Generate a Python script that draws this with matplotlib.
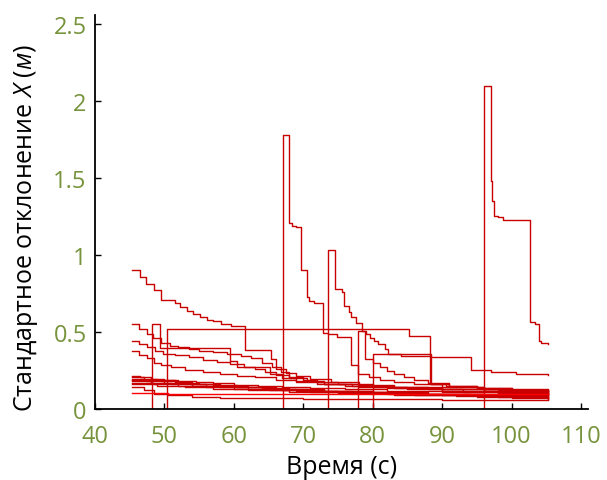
import matplotlib
matplotlib.use("Agg")
import matplotlib.pyplot as plt

plt.rcParams['font.family'] = ['Open Sans', 'DejaVu Sans']
plt.rcParams['mathtext.fontset'] = 'custom'
plt.rcParams['mathtext.rm'] = 'Open Sans'
plt.rcParams['mathtext.it'] = 'Open Sans:italic'

# step series: (x, y) breakpoints, value holds until next x
series_a_x = [45.4, 46.5, 47.4, 48.5, 49.5, 51.5, 52.2, 53.2, 54.1, 55.1, 56.1, 57.0, 58.2, 59.6, 61.6,
              65.4, 66.1, 67.5, 69.0, 71.0, 74.0, 78.0, 83.0, 90.0, 98.0, 105.2]
series_a_y = [0.90, 0.857, 0.81, 0.77, 0.71, 0.69, 0.66, 0.64, 0.62, 0.60, 0.58, 0.57, 0.55, 0.54, 0.385,
              0.325, 0.26, 0.235, 0.215, 0.195, 0.175, 0.155, 0.14, 0.13, 0.125, 0.125]

series_b_x = [45.4, 46.3, 47.5, 48.3, 49.5, 50.8, 52.0, 53.5, 55.0, 57.0, 59.0, 61.0, 62.5, 64.0, 65.5,
              66.8, 68.0, 70.0, 72.0, 75.0, 80.0, 88.0, 96.0, 105.2]
series_b_y = [0.555, 0.52, 0.49, 0.46, 0.43, 0.41, 0.40, 0.39, 0.38, 0.37, 0.36, 0.345, 0.33, 0.30, 0.27,
              0.24, 0.21, 0.19, 0.175, 0.16, 0.145, 0.13, 0.115, 0.105]

series_c_x = [45.4, 46.4, 47.5, 48.6, 49.8, 51.5, 53.5, 55.5, 57.5, 59.5, 61.5, 63.0, 64.5, 66.0, 68.0,
              70.5, 73.0, 77.0, 83.0, 90.0, 98.0, 105.2]
series_c_y = [0.44, 0.42, 0.40, 0.38, 0.36, 0.35, 0.335, 0.32, 0.305, 0.29, 0.275, 0.26, 0.24, 0.22, 0.20,
              0.18, 0.165, 0.15, 0.135, 0.12, 0.105, 0.10]

series_d_x = [45.4, 46.4, 47.5, 48.5, 49.5, 51.0, 53.0, 55.5, 58.0, 60.5, 63.0, 66.0, 69.0, 73.0, 78.0,
              85.0, 93.0, 105.2]
series_d_y = [0.375, 0.35, 0.33, 0.30, 0.285, 0.27, 0.255, 0.24, 0.225, 0.215, 0.205, 0.19, 0.175, 0.16,
              0.145, 0.13, 0.11, 0.09]

series_e_x = [48.25, 48.25, 49.3, 59.4, 60.4, 65.2, 67.0, 69.0, 72.0, 76.0, 82.0, 90.0, 100.0, 105.2]
series_e_y = [0.0, 0.555, 0.395, 0.31, 0.27, 0.227, 0.20, 0.18, 0.165, 0.15, 0.135, 0.12, 0.10, 0.095]

series_f_x = [50.4, 50.4, 85.2, 88.2, 90.5, 95.0, 100.0, 105.2]
series_f_y = [0.0, 0.52, 0.476, 0.165, 0.15, 0.135, 0.125, 0.12]

series_g_x = [67.1, 67.1, 68.0, 68.3, 68.9, 69.6, 70.5, 70.8, 71.6, 72.8, 73.6, 74.8, 76.8, 77.9, 79.5,
              81.0, 83.0, 86.0, 90.0, 96.0, 105.2]
series_g_y = [0.0, 1.78, 1.21, 1.19, 1.18, 0.90, 0.725, 0.70, 0.69, 0.497, 0.487, 0.47, 0.285, 0.227, 0.21,
              0.19, 0.175, 0.16, 0.145, 0.13, 0.118]

series_h_x = [73.6, 73.6, 74.6, 75.5, 75.8, 76.6, 76.9, 77.55, 78.4, 79.0, 79.6, 80.2, 80.8, 81.7, 82.2,
              84.0, 88.4, 94.2, 97.1, 100.7, 105.2]
series_h_y = [0.0, 1.03, 0.78, 0.76, 0.67, 0.63, 0.60, 0.56, 0.51, 0.49, 0.46, 0.44, 0.42, 0.39, 0.357,
              0.342, 0.335, 0.255, 0.242, 0.227, 0.218]

series_i_x = [77.9, 77.9, 78.85, 80.0, 81.0, 82.0, 83.0, 84.5, 86.0, 88.0, 91.0, 95.0, 100.0, 105.2]
series_i_y = [0.0, 0.51, 0.325, 0.30, 0.27, 0.25, 0.23, 0.21, 0.19, 0.17, 0.15, 0.135, 0.12, 0.115]

series_j_x = [80.05, 80.05, 88.4, 91.0, 96.0, 105.2]
series_j_y = [0.0, 0.357, 0.16, 0.14, 0.12, 0.11]

series_k_x = [96.0, 96.0, 97.1, 97.15, 97.4, 98.1, 98.75, 102.7, 103.3, 103.9, 104.2, 105.2]
series_k_y = [0.0, 2.10, 1.48, 1.35, 1.255, 1.245, 1.23, 0.563, 0.55, 0.44, 0.427, 0.42]

low_1_x = [45.4, 46.5, 48.0, 50.0, 52.0, 54.5, 57.0, 60.0, 63.5, 67.0, 71.0, 76.0, 82.0, 90.0, 98.0, 105.2]
low_1_y = [0.212, 0.205, 0.198, 0.19, 0.182, 0.174, 0.166, 0.158, 0.15, 0.142, 0.135, 0.128, 0.12, 0.112,
           0.105, 0.10]
low_2_x = [45.4, 47.0, 49.0, 51.5, 54.0, 57.0, 60.5, 64.0, 68.0, 73.0, 80.0, 88.0, 96.0, 105.2]
low_2_y = [0.205, 0.196, 0.186, 0.175, 0.165, 0.155, 0.146, 0.138, 0.13, 0.12, 0.11, 0.10, 0.092, 0.088]
low_3_x = [45.4, 47.0, 49.5, 52.0, 55.0, 58.0, 62.0, 66.0, 71.0, 77.0, 85.0, 94.0, 105.2]
low_3_y = [0.198, 0.19, 0.18, 0.17, 0.16, 0.15, 0.14, 0.13, 0.12, 0.11, 0.10, 0.09, 0.082]
low_4_x = [45.4, 47.5, 50.0, 53.0, 56.0, 60.0, 64.0, 69.0, 75.0, 82.0, 90.0, 98.0, 105.2]
low_4_y = [0.19, 0.18, 0.17, 0.16, 0.15, 0.14, 0.13, 0.12, 0.11, 0.10, 0.09, 0.08, 0.075]
low_5_x = [45.4, 48.0, 51.0, 54.0, 58.0, 62.0, 67.0, 73.0, 80.0, 88.0, 96.0, 105.2]
low_5_y = [0.182, 0.172, 0.162, 0.152, 0.142, 0.133, 0.124, 0.115, 0.105, 0.095, 0.085, 0.07]
low_6_x = [45.4, 48.5, 52.0, 56.0, 60.0, 65.0, 71.0, 78.0, 86.0, 95.0, 105.2]
low_6_y = [0.172, 0.162, 0.152, 0.142, 0.133, 0.123, 0.113, 0.103, 0.093, 0.08, 0.068]
low_7_x = [45.4, 49.0, 53.0, 57.0, 62.0, 68.0, 75.0, 83.0, 92.0, 100.0, 105.2]
low_7_y = [0.162, 0.152, 0.142, 0.132, 0.122, 0.112, 0.102, 0.092, 0.082, 0.072, 0.065]
low_8_x = [45.4, 47.0, 48.5, 50.5, 54.0, 58.0, 63.0, 70.0, 80.0, 90.0, 105.2]
low_8_y = [0.14, 0.125, 0.10, 0.088, 0.08, 0.074, 0.07, 0.066, 0.063, 0.061, 0.06]

flat_x = [45.4, 50.5, 62.0, 80.0, 105.2]
flat_y = [0.102, 0.10, 0.098, 0.097, 0.095]

all_series = [
    (series_a_x, series_a_y), (series_b_x, series_b_y), (series_c_x, series_c_y),
    (series_d_x, series_d_y), (series_e_x, series_e_y), (series_f_x, series_f_y),
    (series_g_x, series_g_y), (series_h_x, series_h_y), (series_i_x, series_i_y),
    (series_j_x, series_j_y), (series_k_x, series_k_y),
    (low_1_x, low_1_y), (low_2_x, low_2_y), (low_3_x, low_3_y), (low_4_x, low_4_y),
    (low_5_x, low_5_y), (low_6_x, low_6_y), (low_7_x, low_7_y), (low_8_x, low_8_y),
]

x_ticks = [40, 50, 60, 70, 80, 90, 100, 110]
y_ticks = [0, 0.5, 1, 1.5, 2, 2.5]
y_tick_labels = ['0', '0.5', '1', '1.5', '2', '2.5']

tick_color = '#77933C'
line_color = '#C80000'

fig = plt.figure(figsize=(6.07, 4.81), dpi=100)
ax = fig.add_axes([95 / 607, 71 / 481, 493 / 607, 394 / 481])

for xs, ys in all_series:
    ax.plot(xs, ys, drawstyle='steps-post', color=line_color, lw=1.0)
ax.plot(flat_x, flat_y, drawstyle='steps-post', color='#FF0000', lw=1.0)

ax.set_xlim(40, 111)
ax.set_ylim(0, 2.56)
ax.set_xticks(x_ticks)
ax.set_yticks(y_ticks)
ax.set_yticklabels(y_tick_labels)
# end ticks cross the axis line
ax.set_xticks([110], minor=True)
ax.set_yticks([2.5], minor=True)

for side in ['top', 'right']:
    ax.spines[side].set_visible(False)
for side in ['left', 'bottom']:
    ax.spines[side].set_linewidth(1.3)

ax.tick_params(which='major', direction='in', length=4, width=1.0,
               labelsize=17, labelcolor=tick_color)
ax.tick_params(axis='x', which='major', pad=11)
ax.tick_params(axis='y', which='major', pad=6)
ax.tick_params(which='minor', direction='out', length=4, width=1.0)

ax.set_xlabel('Время (с)', fontsize=18, va='center')
ax.xaxis.set_label_coords(0.5, -0.146)
ax.set_ylabel('Стандартное отклонение $\\mathit{X}$ $\\mathit{(м)}$', fontsize=18, va='center')
ax.yaxis.set_label_coords(-0.14, 0.462)

fig.savefig('out.png', dpi=100)
